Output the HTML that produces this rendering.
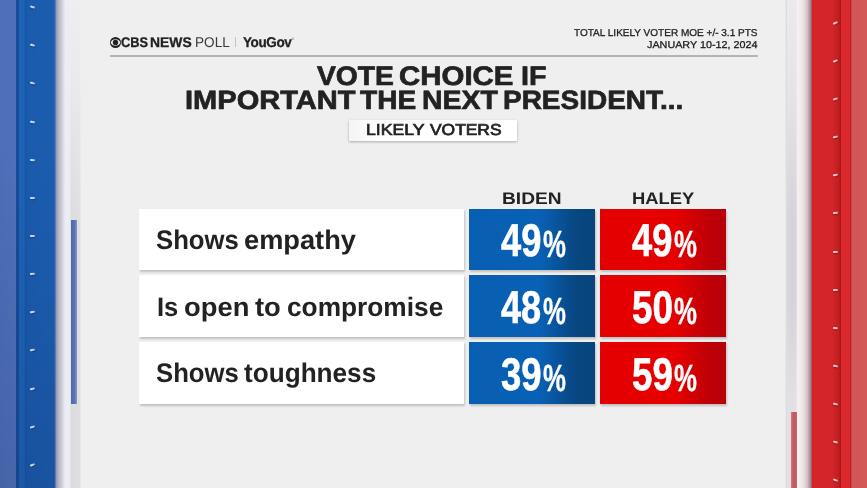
<!DOCTYPE html>
<html lang="en">
<head>
<meta charset="utf-8">
<title>CBS News Poll - Vote choice</title>
<style>
html,body{margin:0;padding:0;}
body{width:867px;height:488px;overflow:hidden;background:#efefef;font-family:"Liberation Sans",sans-serif;color:#222222;}
#stage{position:absolute;left:0;top:0;width:867px;height:488px;overflow:hidden;background:#efefef;}
.abs{position:absolute;}
.t{position:absolute;white-space:nowrap;line-height:1;transform-origin:0 0;color:#222222;text-rendering:geometricPrecision;}
#ls{left:0;top:0;width:82px;height:488px;background:linear-gradient(90deg,
 #4b6fb9 0px,#5071b9 15.5px,#1a4c97 16.5px,#184a96 18.5px,#1d63b8 19.5px,#1d62b7 24px,#1857a7 25.5px,#1a5bad 28px,#1c5db0 54px,#4a70ae 55.2px,#9ea0b8 56.6px,#b8b8c8 59px,#d0d0dc 62px,#e6e6ee 64.5px,#ececf4 65.5px,#ececf4 69.5px,#dcdce0 70.8px,#dedee0 79.5px,#efefef 81.5px);}
#rs{left:785px;top:0;width:82px;height:488px;background:linear-gradient(90deg,
 #efefef 0px,#d8d8dc 1.8px,#d2d2d8 7px,#d8d6dc 11.3px,#f6f0f2 12.5px,#f3e9ec 16px,#e8dce0 19px,#d4c4ca 22px,#b29ca4 24.5px,#a47c84 26px,#d3262a 27.2px,#d4262a 46px,#cc2226 50px,#c01e22 54px,#a81418 55.4px,#da282c 56.5px,#da292d 64.5px,#b82226 65.5px,#d35557 67px,#d45858 82px);}
.rv{position:absolute;width:4.5px;height:2.4px;border-radius:1.1px;opacity:.9;background:linear-gradient(90deg,#eceff6 20%,#bcc4d6);box-shadow:0.5px 1.2px 1.2px rgba(0,0,20,.25);}
#lbar{left:71px;top:219.5px;width:6px;height:184.5px;background:linear-gradient(90deg,#4e68aa,#5c74b3 60%,#8694c2);}
#rbar{left:791px;top:412.4px;width:5.5px;height:76px;background:linear-gradient(90deg,#cc7c84,#c0555e 45%,#c6626a);}
.rule{left:109.5px;top:55.2px;width:648px;height:1.5px;background:#b4b4b4;}
.wbox{background:#fff;box-shadow:1px 1.5px 2px rgba(0,0,0,.2);}
.bbox{background:linear-gradient(90deg,#085eb1 0%,#0861b5 56%,#084a89 80%,#08467f 87%,#08457e 100%);box-shadow:1px 1.5px 2px rgba(0,0,0,.2);}
.rbox{background:linear-gradient(90deg,#e50000 0%,#e60000 58%,#bb0008 90%,#b80008 100%);box-shadow:1px 1.5px 2px rgba(0,0,0,.2);}
.rv.r{background:linear-gradient(90deg,#f4e8ea 20%,#d2b6ba);box-shadow:0.5px 1.2px 1.2px rgba(40,0,0,.3);}
</style>
</head>
<body>
<div id="stage">
  <div id="ls" class="abs"></div>
  <div id="rs" class="abs"></div>
  <div class="abs" style="left:0;top:0;width:55px;height:488px;background:linear-gradient(180deg,rgba(10,20,60,0) 0%,rgba(10,20,60,0) 30%,rgba(10,20,60,.13) 100%)"></div>
  <div class="abs" style="left:69.5px;top:0;width:11.5px;height:230px;background:linear-gradient(180deg,rgba(244,244,246,.75) 0%,rgba(244,244,246,.55) 35%,rgba(244,244,246,0) 100%)"></div>
  <div class="abs" style="left:786.5px;top:0;width:10.6px;height:488px;background:linear-gradient(180deg,rgba(240,240,243,.8) 0%,rgba(240,240,243,.6) 18%,rgba(240,240,243,0) 45%,rgba(240,240,243,0) 62%,rgba(240,240,243,.45) 82%,rgba(240,240,243,.45) 100%)"></div>
  <div id="lbar" class="abs"></div>
  <div id="rbar" class="abs"></div>
  <div class="rv" style="left:30.3px;top:6.0px;transform:rotate(18deg)"></div>
  <div class="rv" style="left:30.3px;top:44.2px;transform:rotate(15deg)"></div>
  <div class="rv" style="left:30.3px;top:82.3px;transform:rotate(12deg)"></div>
  <div class="rv" style="left:30.3px;top:120.5px;transform:rotate(8deg)"></div>
  <div class="rv" style="left:30.3px;top:158.7px;transform:rotate(5deg)"></div>
  <div class="rv" style="left:30.3px;top:196.8px;transform:rotate(2deg)"></div>
  <div class="rv" style="left:30.3px;top:234.9px;transform:rotate(-2deg)"></div>
  <div class="rv" style="left:30.3px;top:273.1px;transform:rotate(-5deg)"></div>
  <div class="rv" style="left:30.3px;top:311.2px;transform:rotate(-8deg)"></div>
  <div class="rv" style="left:30.3px;top:349.4px;transform:rotate(-12deg)"></div>
  <div class="rv" style="left:30.3px;top:387.6px;transform:rotate(-15deg)"></div>
  <div class="rv" style="left:30.3px;top:425.7px;transform:rotate(-18deg)"></div>
  <div class="rv" style="left:30.3px;top:463.8px;transform:rotate(-21deg)"></div>
  <div class="rv r" style="left:833.3px;top:21.8px;transform:rotate(-24deg)"></div>
  <div class="rv r" style="left:833.3px;top:59.9px;transform:rotate(-20deg)"></div>
  <div class="rv r" style="left:833.3px;top:98.0px;transform:rotate(-16deg)"></div>
  <div class="rv r" style="left:833.3px;top:136.1px;transform:rotate(-13deg)"></div>
  <div class="rv r" style="left:833.3px;top:174.3px;transform:rotate(-9deg)"></div>
  <div class="rv r" style="left:833.3px;top:212.4px;transform:rotate(-5deg)"></div>
  <div class="rv r" style="left:833.3px;top:250.5px;transform:rotate(-2deg)"></div>
  <div class="rv r" style="left:833.3px;top:288.7px;transform:rotate(2deg)"></div>
  <div class="rv r" style="left:833.3px;top:326.8px;transform:rotate(5deg)"></div>
  <div class="rv r" style="left:833.3px;top:364.9px;transform:rotate(9deg)"></div>
  <div class="rv r" style="left:833.3px;top:403.1px;transform:rotate(13deg)"></div>
  <div class="rv r" style="left:833.3px;top:441.2px;transform:rotate(16deg)"></div>
  <div class="rv r" style="left:833.3px;top:479.3px;transform:rotate(20deg)"></div>

  <!-- header -->
  <svg class="abs" style="left:109.9px;top:36.6px" width="11" height="11" viewBox="0 0 22 22">
    <circle cx="11" cy="11" r="11" fill="#222"/>
    <path d="M1.3 11 A10.4 10.4 0 0 1 20.7 11 A10.4 10.4 0 0 1 1.3 11 Z" fill="#efefef"/>
    <circle cx="11" cy="11" r="5.4" fill="#222"/>
  </svg>
  <span class="t" style="left:121.04px;top:35.06px;font-size:14px;font-weight:bold;-webkit-text-stroke:0.3px #222222;transform:scale(0.9183,0.9949);">CBS</span>
  <span class="t" style="left:150.36px;top:35.06px;font-size:14px;font-weight:bold;-webkit-text-stroke:0.3px #222222;transform:scale(0.9914,0.9949);">NEWS</span>
  <span class="t" style="left:195.39px;top:34.87px;font-size:14px;color:#3a3a3a;transform:scale(0.9706,1.0105);">POLL</span>
  <div class="abs" style="left:235px;top:37px;width:1px;height:10.2px;background:#c2c2c2"></div>
  <span class="t" style="left:243.00px;top:34.82px;font-size:14px;font-weight:bold;letter-spacing:-0.4px;-webkit-text-stroke:0.3px #222222;transform:scale(0.9635,1.0154);">YouGov</span>
  <span class="t" style="left:291.4px;top:37.6px;font-size:3.5px;color:#777">®</span>
  <span class="t" style="left:574.20px;top:29.14px;font-size:10.2px;-webkit-text-stroke:0.3px #1e1e1e;color:#1e1e1e;transform:scale(0.9836,0.9793);">TOTAL LIKELY VOTER MOE +/- 3.1 PTS</span>
  <span class="t" style="left:647.00px;top:41.04px;font-size:10.2px;-webkit-text-stroke:0.3px #1e1e1e;color:#1e1e1e;transform:scale(1.0590,0.9793);">JANUARY 10-12, 2024</span>
  <div class="abs rule"></div>

  <!-- title -->
  <span class="t" style="left:316.86px;top:63.22px;font-size:27px;font-weight:bold;-webkit-text-stroke:0.7px #222222;transform:scale(1.0466,0.9922);">VOTE</span>
  <span class="t" style="left:399.18px;top:63.22px;font-size:27px;font-weight:bold;-webkit-text-stroke:0.7px #222222;transform:scale(1.0899,0.9922);">CHOICE</span>
  <span class="t" style="left:520.91px;top:63.22px;font-size:27px;font-weight:bold;-webkit-text-stroke:0.7px #222222;transform:scale(1.0621,0.9922);">IF</span>
  <span class="t" style="left:184.69px;top:88.07px;font-size:27px;font-weight:bold;-webkit-text-stroke:0.7px #222222;transform:scale(1.0758,0.9766);">IMPORTANT</span>
  <span class="t" style="left:360.00px;top:88.07px;font-size:27px;font-weight:bold;-webkit-text-stroke:0.7px #222222;transform:scale(1.0404,0.9766);">THE</span>
  <span class="t" style="left:422.12px;top:88.07px;font-size:27px;font-weight:bold;-webkit-text-stroke:0.7px #222222;transform:scale(1.0539,0.9766);">NEXT</span>
  <span class="t" style="left:503.15px;top:88.07px;font-size:27px;font-weight:bold;-webkit-text-stroke:0.7px #222222;transform:scale(1.0363,0.9766);">PRESIDENT...</span>
  <div class="abs wbox" style="left:349.3px;top:120.1px;width:167.8px;height:20.5px;background:linear-gradient(90deg,#f4f4f4,#ffffff 18%,#ffffff);box-shadow:0 1px 2.5px rgba(0,0,0,.28)"></div>
  <span class="t" style="left:365.63px;top:123.40px;font-size:16.5px;-webkit-text-stroke:0.75px #222222;transform:scale(1.0685,0.9583);">LIKELY</span>
  <span class="t" style="left:429.93px;top:123.40px;font-size:16.5px;-webkit-text-stroke:0.75px #222222;transform:scale(1.0544,0.9583);">VOTERS</span>

  <!-- column heads -->
  <span class="t" style="left:502.09px;top:190.18px;font-size:17px;font-weight:bold;transform:scale(1.1267,0.9872);">BIDEN</span>
  <span class="t" style="left:631.65px;top:190.18px;font-size:17px;font-weight:bold;transform:scale(1.0821,0.9872);">HALEY</span>

  <!-- rows -->
  <div class="abs wbox" style="left:139px;top:208.8px;width:325.2px;height:61.5px"></div>
  <div class="abs wbox" style="left:139px;top:275.4px;width:325.2px;height:61.5px"></div>
  <div class="abs wbox" style="left:139px;top:342.2px;width:325.2px;height:61.5px"></div>
  <div class="abs bbox" style="left:468.8px;top:208.8px;width:126.2px;height:61.5px"></div>
  <div class="abs bbox" style="left:468.8px;top:275.4px;width:126.2px;height:61.5px"></div>
  <div class="abs bbox" style="left:468.8px;top:342.2px;width:126.2px;height:61.5px"></div>
  <div class="abs rbox" style="left:600px;top:208.8px;width:126.4px;height:61.5px"></div>
  <div class="abs rbox" style="left:600px;top:275.4px;width:126.4px;height:61.5px"></div>
  <div class="abs rbox" style="left:600px;top:342.2px;width:126.4px;height:61.5px"></div>

  <span class="t" style="left:156.46px;top:225.82px;font-size:26px;font-weight:bold;transform:scale(0.9878,1.0310);">Shows</span>
  <span class="t" style="left:244.15px;top:225.82px;font-size:26px;font-weight:bold;transform:scale(1.0468,1.0310);">empathy</span>
  <span class="t" style="left:157.28px;top:292.64px;font-size:26px;font-weight:bold;transform:scale(0.9842,1.0254);">Is</span>
  <span class="t" style="left:183.55px;top:292.64px;font-size:26px;font-weight:bold;transform:scale(1.0521,1.0254);">open</span>
  <span class="t" style="left:254.84px;top:292.64px;font-size:26px;font-weight:bold;transform:scale(1.0538,1.0254);">to</span>
  <span class="t" style="left:286.89px;top:292.64px;font-size:26px;font-weight:bold;transform:scale(1.0108,1.0254);">compromise</span>
  <span class="t" style="left:156.46px;top:359.22px;font-size:26px;font-weight:bold;transform:scale(0.9878,1.0310);">Shows</span>
  <span class="t" style="left:244.25px;top:359.22px;font-size:26px;font-weight:bold;transform:scale(1.0058,1.0310);">toughness</span>

  <span class="t" style="left:501.11px;top:217.11px;font-size:46px;font-weight:bold;-webkit-text-stroke:0.6px #ffffff;color:#ffffff;transform:scale(0.7898,0.9985);">49</span>
  <span class="t" style="left:542.58px;top:225.21px;font-size:37px;font-weight:bold;-webkit-text-stroke:0.4px #ffffff;color:#ffffff;transform:scale(0.6976,1.0189);">%</span>
  <span class="t" style="left:632.31px;top:217.11px;font-size:46px;font-weight:bold;-webkit-text-stroke:0.6px #ffffff;color:#ffffff;transform:scale(0.7898,0.9985);">49</span>
  <span class="t" style="left:673.78px;top:225.21px;font-size:37px;font-weight:bold;-webkit-text-stroke:0.4px #ffffff;color:#ffffff;transform:scale(0.6976,1.0189);">%</span>
  <span class="t" style="left:501.11px;top:283.71px;font-size:46px;font-weight:bold;-webkit-text-stroke:0.6px #ffffff;color:#ffffff;transform:scale(0.7859,0.9985);">48</span>
  <span class="t" style="left:542.58px;top:291.81px;font-size:37px;font-weight:bold;-webkit-text-stroke:0.4px #ffffff;color:#ffffff;transform:scale(0.6976,1.0189);">%</span>
  <span class="t" style="left:631.90px;top:283.71px;font-size:46px;font-weight:bold;-webkit-text-stroke:0.6px #ffffff;color:#ffffff;transform:scale(0.8021,0.9985);">50</span>
  <span class="t" style="left:673.78px;top:291.81px;font-size:37px;font-weight:bold;-webkit-text-stroke:0.4px #ffffff;color:#ffffff;transform:scale(0.6976,1.0189);">%</span>
  <span class="t" style="left:500.90px;top:350.51px;font-size:46px;font-weight:bold;-webkit-text-stroke:0.6px #ffffff;color:#ffffff;transform:scale(0.7939,0.9985);">39</span>
  <span class="t" style="left:542.58px;top:358.61px;font-size:37px;font-weight:bold;-webkit-text-stroke:0.4px #ffffff;color:#ffffff;transform:scale(0.6976,1.0189);">%</span>
  <span class="t" style="left:631.90px;top:350.51px;font-size:46px;font-weight:bold;-webkit-text-stroke:0.6px #ffffff;color:#ffffff;transform:scale(0.7979,0.9985);">59</span>
  <span class="t" style="left:673.78px;top:358.61px;font-size:37px;font-weight:bold;-webkit-text-stroke:0.4px #ffffff;color:#ffffff;transform:scale(0.6976,1.0189);">%</span>
</div>
</body>
</html>
